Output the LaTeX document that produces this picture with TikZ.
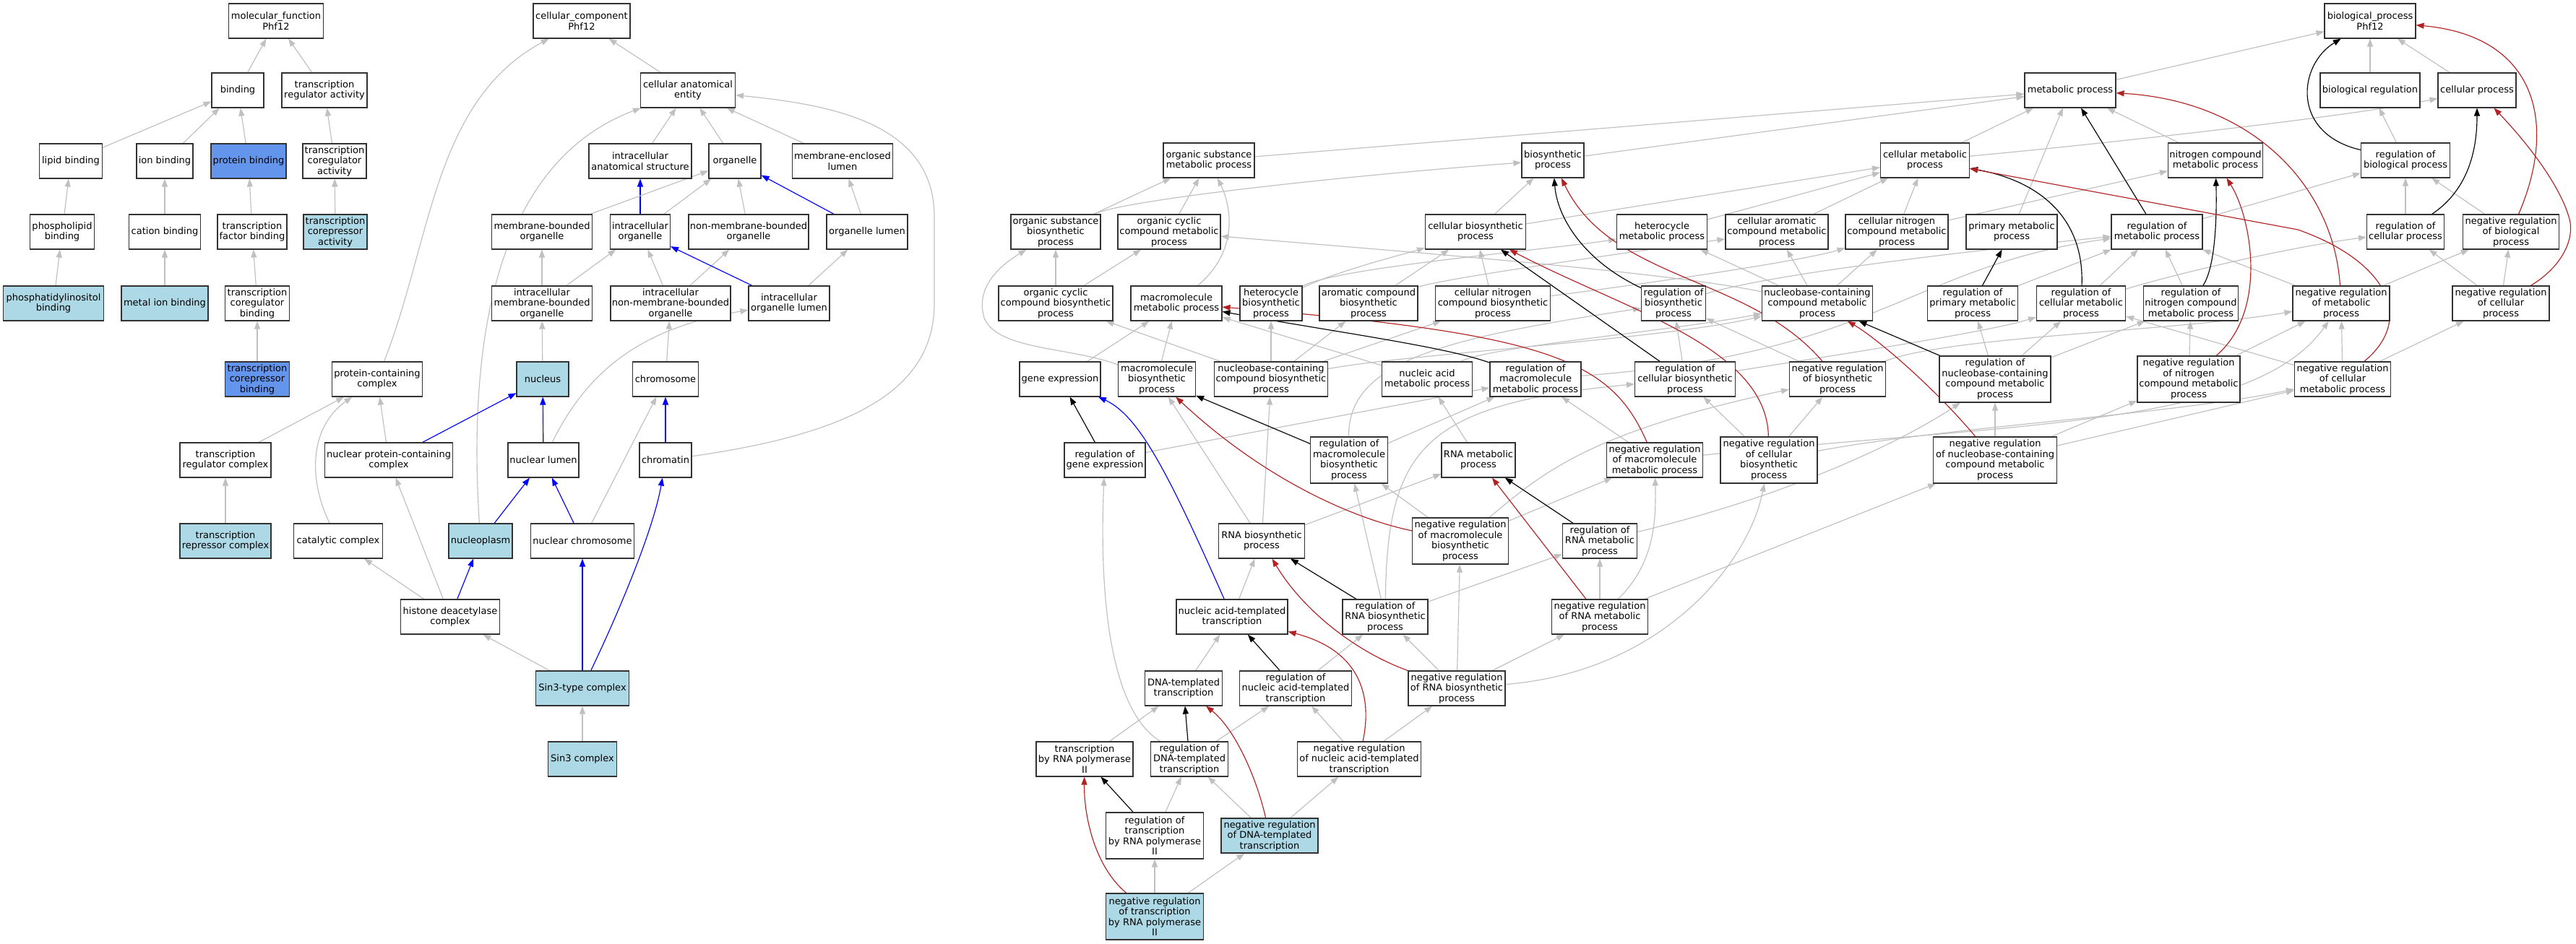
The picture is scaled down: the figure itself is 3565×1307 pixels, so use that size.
\documentclass[tikz,border=0pt]{standalone}
\usepackage{fontspec}
\newfontfamily\dvs{DejaVu Sans}
\usetikzlibrary{arrows.meta,backgrounds}
\definecolor{eg}{RGB}{192,192,192}
\definecolor{bd}{RGB}{50,50,50}
\definecolor{lbl}{RGB}{173,216,230}
\definecolor{cbl}{RGB}{100,149,237}
\definecolor{fbr}{RGB}{178,34,34}
\tikzset{
 gobox/.style={draw=bd, line width=1.1bp, fill=white, align=center, inner sep=1.5bp, minimum height=48bp, font=\dvs\fontsize{13bp}{14.5bp}\selectfont},
 tall/.style={minimum height=64bp},
 lbf/.style={fill=lbl},
 cbf/.style={fill=cbl},
 conn/.style={line width=1.15bp, -{Triangle[length=11bp,width=8bp]}},
 isa/.style={conn, draw=eg},
 po/.style={conn, draw=blue},
 rg/.style={conn, draw=black},
 nr/.style={conn, draw=fbr},
}
\begin{document}
\begin{tikzpicture}[x=1bp,y=-1bp]
\useasboundingbox (0,0) rectangle (3565,1307);
% ---------------- molecular function
\node[gobox,minimum width=131bp] (mf) at (382,29) {molecular\_function\\Phf12};
\node[gobox,minimum width=72bp] (bind) at (329,125) {binding};
\node[gobox,minimum width=118bp] (tra) at (449,125) {transcription\\regulator activity};
\node[gobox,minimum width=87bp] (lipid) at (98,223) {lipid binding};
\node[gobox,minimum width=78bp] (ionb) at (228,223) {ion binding};
\node[gobox,cbf,minimum width=104bp] (protb) at (344,223) {protein binding};
\node[gobox,minimum width=88bp] (tcoa) at (463,223) {transcription\\coregulator\\activity};
\node[gobox,minimum width=89bp] (phos) at (86,321) {phospholipid\\binding};
\node[gobox,minimum width=99bp] (cation) at (228,321) {cation binding};
\node[gobox,minimum width=96bp] (tfb) at (349,321) {transcription\\factor binding};
\node[gobox,lbf,minimum width=88bp] (tcra) at (464,321) {transcription\\corepressor\\activity};
\node[gobox,lbf,minimum width=139bp] (pib) at (74,420) {phosphatidylinositol\\binding};
\node[gobox,lbf,minimum width=120bp] (mib) at (228,420) {metal ion binding};
\node[gobox,minimum width=89bp] (tcb) at (356,420) {transcription\\coregulator\\binding};
\node[gobox,cbf,minimum width=89bp] (tcrb) at (356,525) {transcription\\corepressor\\binding};
% ---------------- cellular component
\node[gobox,minimum width=134bp] (cc) at (805,29) {cellular\_component\\Phf12};
\node[gobox,minimum width=131bp] (cae) at (952,125) {cellular anatomical\\entity};
\node[gobox,minimum width=142bp] (ias) at (886,223) {intracellular\\anatomical structure};
\node[gobox,minimum width=72bp] (org) at (1017,223) {organelle};
\node[gobox,minimum width=139bp] (mel) at (1166,223) {membrane-enclosed\\lumen};
\node[gobox,minimum width=139bp] (mbo) at (750,321) {membrane-bounded\\organelle};
\node[gobox,minimum width=83bp] (io) at (886,321) {intracellular\\organelle};
\node[gobox,minimum width=166bp] (nmbo) at (1036,321) {non-membrane-bounded\\organelle};
\node[gobox,minimum width=112bp] (ol) at (1200,321) {organelle lumen};
\node[gobox,minimum width=139bp] (imbo) at (750,420) {intracellular\\membrane-bounded\\organelle};
\node[gobox,minimum width=166bp] (inmbo) at (928,420) {intracellular\\non-membrane-bounded\\organelle};
\node[gobox,minimum width=112bp] (iol) at (1092,420) {intracellular\\organelle lumen};
\node[gobox,minimum width=125bp] (pcc) at (522,525) {protein-containing\\complex};
\node[gobox,lbf,minimum width=72bp] (nucleus) at (751,525) {nucleus};
\node[gobox,minimum width=91bp] (chrom) at (921,525) {chromosome};
\node[gobox,minimum width=126bp] (trc) at (312,637) {transcription\\regulator complex};
\node[gobox,minimum width=177bp] (npcc) at (538,637) {nuclear protein-containing\\complex};
\node[gobox,minimum width=98bp] (nl) at (752,637) {nuclear lumen};
\node[gobox,minimum width=72bp] (chromatin) at (921,637) {chromatin};
\node[gobox,lbf,minimum width=126bp] (trepc) at (312,749) {transcription\\repressor complex};
\node[gobox,minimum width=123bp] (catc) at (468,749) {catalytic complex};
\node[gobox,lbf,minimum width=88bp] (npl) at (665,749) {nucleoplasm};
\node[gobox,minimum width=143bp] (nchr) at (806,749) {nuclear chromosome};
\node[gobox,minimum width=137bp] (hdac) at (623,854) {histone deacetylase\\complex};
\node[gobox,lbf,minimum width=129bp] (sinthree) at (806,953) {Sin3-type complex};
\node[gobox,lbf,minimum width=95bp] (sinc) at (806,1051) {Sin3 complex};
% ---------------- biological process
\node[gobox,minimum width=126bp] (bp) at (3280,29) {biological\_process\\Phf12};
\node[gobox,minimum width=126bp] (mp) at (2865,125) {metabolic process};
\node[gobox,minimum width=138bp] (br) at (3280,125) {biological regulation};
\node[gobox,minimum width=108bp] (cp) at (3428,125) {cellular process};
\node[gobox,minimum width=126bp] (osmp) at (1673,222) {organic substance\\metabolic process};
\node[gobox,minimum width=86bp] (bsp) at (2149,222) {biosynthetic\\process};
\node[gobox,minimum width=123bp] (cmp) at (2664,222) {cellular metabolic\\process};
\node[gobox,minimum width=131bp] (ncmp) at (3066,222) {nitrogen compound\\metabolic process};
\node[gobox,minimum width=123bp] (rbp) at (3329,222) {regulation of\\biological process};
\node[gobox,minimum width=124bp] (osbp) at (1461,321) {organic substance\\biosynthetic\\process};
\node[gobox,minimum width=142bp] (occmp) at (1618,321) {organic cyclic\\compound metabolic\\process};
\node[gobox,minimum width=139bp] (cbp) at (2042,321) {cellular biosynthetic\\process};
\node[gobox,minimum width=125bp] (hmp) at (2300,321) {heterocycle\\metabolic process};
\node[gobox,minimum width=142bp] (camp) at (2459,321) {cellular aromatic\\compound metabolic\\process};
\node[gobox,minimum width=142bp] (cncmp) at (2625,321) {cellular nitrogen\\compound metabolic\\process};
\node[gobox,minimum width=126bp] (pmp) at (2784,321) {primary metabolic\\process};
\node[gobox,minimum width=126bp] (romp) at (2985,321) {regulation of\\metabolic process};
\node[gobox,minimum width=107bp] (rcp) at (3329,321) {regulation of\\cellular process};
\node[gobox,minimum width=133bp] (nrbp) at (3475,321) {negative regulation\\of biological\\process};
\node[gobox,minimum width=158bp] (occbp) at (1461,420) {organic cyclic\\compound biosynthetic\\process};
\node[gobox,minimum width=126bp] (mmp) at (1628,420) {macromolecule\\metabolic process};
\node[gobox,minimum width=86bp] (hbp) at (1759,420) {heterocycle\\biosynthetic\\process};
\node[gobox,minimum width=136bp] (acbp) at (1894,420) {aromatic compound\\biosynthetic\\process};
\node[gobox,minimum width=159bp] (cncbp) at (2066,420) {cellular nitrogen\\compound biosynthetic\\process};
\node[gobox,minimum width=89bp] (rbsp) at (2316,420) {regulation of\\biosynthetic\\process};
\node[gobox,minimum width=153bp] (nccmp) at (2515,420) {nucleobase-containing\\compound metabolic\\process};
\node[gobox,minimum width=125bp] (rpmp) at (2730,420) {regulation of\\primary metabolic\\process};
\node[gobox,minimum width=123bp] (rcmp) at (2880,420) {regulation of\\cellular metabolic\\process};
\node[gobox,minimum width=131bp] (rncmp) at (3032,420) {regulation of\\nitrogen compound\\metabolic process};
\node[gobox,minimum width=134bp] (nrmp) at (3240,420) {negative regulation\\of metabolic\\process};
\node[gobox,minimum width=134bp] (nrcp) at (3461,420) {negative regulation\\of cellular\\process};
\node[gobox,minimum width=112bp] (ge) at (1467,525) {gene expression};
\node[gobox,minimum width=107bp] (mbp) at (1601,525) {macromolecule\\biosynthetic\\process};
\node[gobox,minimum width=157bp] (nccbp) at (1759,525) {nucleobase-containing\\compound biosynthetic\\process};
\node[gobox,minimum width=125bp] (namp) at (1975,525) {nucleic acid\\metabolic process};
\node[gobox,minimum width=126bp] (rmmp) at (2125,525) {regulation of\\macromolecule\\metabolic process};
\node[gobox,minimum width=139bp] (rcbp) at (2332,525) {regulation of\\cellular biosynthetic\\process};
\node[gobox,minimum width=133bp] (nrbsp) at (2543,525) {negative regulation\\of biosynthetic\\process};
\node[gobox,tall,minimum width=154bp] (rnccmp) at (2761,525) {regulation of\\nucleobase-containing\\compound metabolic\\process};
\node[gobox,tall,minimum width=142bp] (nrncmp) at (3029,525) {negative regulation\\of nitrogen\\compound metabolic\\process};
\node[gobox,minimum width=133bp] (nrcmp) at (3242,525) {negative regulation\\of cellular\\metabolic process};
\node[gobox,minimum width=112bp] (rge) at (1529,637) {regulation of\\gene expression};
\node[gobox,tall,minimum width=107bp] (rmbp) at (1867,637) {regulation of\\macromolecule\\biosynthetic\\process};
\node[gobox,minimum width=102bp] (rmp) at (2046,637) {RNA metabolic\\process};
\node[gobox,minimum width=133bp] (nrmmp) at (2290,637) {negative regulation\\of macromolecule\\metabolic process};
\node[gobox,tall,minimum width=134bp] (nrcbp) at (2448,637) {negative regulation\\of cellular\\biosynthetic\\process};
\node[gobox,tall,minimum width=171bp] (nrnccmp) at (2761,637) {negative regulation\\of nucleobase-containing\\compound metabolic\\process};
\node[gobox,minimum width=119bp] (rnabsp) at (1746,749) {RNA biosynthetic\\process};
\node[gobox,tall,minimum width=133bp] (nrmbp) at (2021,749) {negative regulation\\of macromolecule\\biosynthetic\\process};
\node[gobox,minimum width=103bp] (rrmp) at (2214,749) {regulation of\\RNA metabolic\\process};
\node[gobox,minimum width=154bp] (natt) at (1705,854) {nucleic acid-templated\\transcription};
\node[gobox,minimum width=118bp] (rrbsp) at (1917,854) {regulation of\\RNA biosynthetic\\process};
\node[gobox,minimum width=133bp] (nrrmp) at (2214,854) {negative regulation\\of RNA metabolic\\process};
\node[gobox,minimum width=107bp] (dtt) at (1638,953) {DNA-templated\\transcription};
\node[gobox,minimum width=155bp] (rnatt) at (1793,953) {regulation of\\nucleic acid-templated\\transcription};
\node[gobox,minimum width=134bp] (nrrbsp) at (2016,953) {negative regulation\\of RNA biosynthetic\\process};
\node[gobox,minimum width=134bp] (trnap) at (1501,1051) {transcription\\by RNA polymerase\\II};
\node[gobox,minimum width=107bp] (rdtt) at (1646,1051) {regulation of\\DNA-templated\\transcription};
\node[gobox,minimum width=171bp] (nrnatt) at (1881,1051) {negative regulation\\of nucleic acid-templated\\transcription};
\node[gobox,tall,minimum width=135bp] (rtrnap) at (1598,1157) {regulation of\\transcription\\by RNA polymerase\\II};
\node[gobox,lbf,minimum width=134bp] (nrdtt) at (1757,1157) {negative regulation\\of DNA-templated\\transcription};
\node[gobox,lbf,tall,minimum width=135bp] (nrtrnap) at (1598,1269) {negative regulation\\of transcription\\by RNA polymerase\\II};

\begin{scope}[on background layer]
\fill[white] (0,0) rectangle (3565,1307);
% MF
\draw[isa] (bind) -- (mf);
\draw[isa] (tra) -- (mf);
\draw[isa] (lipid) -- (bind);
\draw[isa] (ionb) -- (bind);
\draw[isa] (protb) -- (bind);
\draw[isa] (tcoa) -- (tra);
\draw[isa] (phos) -- (lipid);
\draw[isa] (cation) -- (ionb);
\draw[isa] (tfb) -- (protb);
\draw[isa] (tcra) -- (tcoa);
\draw[isa] (pib) -- (phos);
\draw[isa] (mib) -- (cation);
\draw[isa] (tcb) -- (tfb);
\draw[isa] (tcrb) -- (tcb);
% CC
\draw[isa] (pcc) .. controls (598,330) and (600,140) .. (cc);
\draw[isa] (cae) -- (cc);
\draw[isa] (ias) -- (cae);
\draw[isa] (org) -- (cae);
\draw[isa] (mel) -- (cae);
\draw[isa] (npl) .. controls (645,440) and (700,220) .. (cae);
\draw[isa] (chromatin) .. controls (1180,600) and (1293,540) .. (1293,420) -- (1293,300) .. controls (1293,170) and (1150,145) .. (cae);
\draw[po] (io) -- (ias);
\draw[isa] (mbo) -- (org);
\draw[isa] (io) -- (org);
\draw[isa] (nmbo) -- (org);
\draw[po] (ol) -- (org);
\draw[isa] (ol) -- (mel);
\draw[isa] (imbo) -- (mbo);
\draw[isa] (imbo) -- (io);
\draw[isa] (inmbo) -- (io);
\draw[isa] (inmbo) -- (nmbo);
\draw[po] (iol) -- (io);
\draw[isa] (iol) -- (ol);
\draw[isa] (nucleus) -- (imbo);
\draw[isa] (chrom) -- (inmbo);
\draw[isa] (trc) -- (pcc);
\draw[isa] (npcc) -- (pcc);
\draw[po] (npcc) -- (nucleus);
\draw[po] (nl) -- (nucleus);
\draw[isa] (nl) .. controls (810,520) and (880,455) .. (iol);
\draw[po] (chromatin) -- (chrom);
\draw[isa] (trepc) -- (trc);
\draw[isa] (catc) .. controls (425,660) and (430,590) .. (pcc);
\draw[po] (npl) -- (nl);
\draw[po] (nchr) -- (nl);
\draw[isa] (nchr) -- (chrom);
\draw[isa] (hdac) -- (catc);
\draw[isa] (hdac) -- (npcc);
\draw[po] (hdac) -- (npl);
\draw[isa] (sinthree) -- (hdac);
\draw[po] (sinthree) -- (nchr);
\draw[po] (sinthree) .. controls (860,840) and (905,730) .. (chromatin);
\draw[isa] (sinc) -- (sinthree);
% BP gray
\draw[isa] (mp) -- (bp);
\draw[isa] (br) -- (bp);
\draw[isa] (cp) -- (bp);
\draw[isa] (osmp) -- (mp);
\draw[isa] (bsp) -- (mp);
\draw[isa] (cmp) -- (mp);
\draw[isa] (cmp) .. controls (2900,200) and (3250,162) .. (cp);
\draw[isa] (ncmp) -- (mp);
\draw[isa] (pmp) -- (mp);
\draw[isa] (rbp) -- (br);
\draw[isa] (osbp) -- (osmp);
\draw[isa] (osbp) .. controls (1560,275) and (1900,240) .. (bsp);
\draw[isa] (occmp) -- (osmp);
\draw[isa] (cbp) -- (bsp);
\draw[isa] (cbp) -- (cmp);
\draw[isa] (hmp) -- (cmp);
\draw[isa] (camp) -- (cmp);
\draw[isa] (cncmp) -- (cmp);
\draw[isa] (cncmp) -- (ncmp);
\draw[isa] (romp) -- (rbp);
\draw[isa] (rcp) -- (rbp);
\draw[isa] (nrbp) -- (rbp);
\draw[isa] (occbp) -- (osbp);
\draw[isa] (occbp) -- (occmp);
\draw[isa] (mmp) .. controls (1712,350) and (1706,290) .. (osmp);
\draw[isa] (hbp) .. controls (1850,375) and (1950,350) .. (cbp);
\draw[isa] (hbp) .. controls (1850,370) and (2150,345) .. (hmp);
\draw[isa] (acbp) -- (cbp);
\draw[isa] (acbp) .. controls (2000,385) and (2250,350) .. (camp);
\draw[isa] (cncbp) -- (cbp);
\draw[isa] (cncbp) .. controls (2300,390) and (2500,360) .. (cncmp);
\draw[isa] (rbsp) .. controls (2450,380) and (2700,350) .. (romp);
\draw[isa] (nccmp) .. controls (2300,375) and (1900,345) .. (occmp);
\draw[isa] (nccmp) -- (hmp);
\draw[isa] (nccmp) -- (camp);
\draw[isa] (nccmp) -- (cncmp);
\draw[isa] (rpmp) -- (romp);
\draw[isa] (rcmp) -- (romp);
\draw[isa] (rcmp) .. controls (2990,385) and (3150,345) .. (rcp);
\draw[isa] (rncmp) -- (romp);
\draw[isa] (nrmp) -- (romp);
\draw[isa] (nrmp) -- (nrbp);
\draw[isa] (nrcp) -- (rcp);
\draw[isa] (nrcp) -- (nrbp);
\draw[isa] (ge) -- (mmp);
\draw[isa] (mbp) -- (mmp);
\draw[isa] (mbp) .. controls (1480,480) and (1380,485) .. (1362,440) .. controls (1350,400) and (1380,370) .. (osbp);
\draw[isa] (nccbp) -- (hbp);
\draw[isa] (nccbp) -- (acbp);
\draw[isa] (nccbp) -- (cncbp);
\draw[isa] (nccbp) -- (occbp);
\draw[isa] (nccbp) .. controls (1950,490) and (2300,470) .. (nccmp);
\draw[isa] (namp) .. controls (2060,480) and (2300,460) .. (nccmp);
\draw[isa] (namp) -- (mmp);
\draw[isa] (rmmp) .. controls (2600,490) and (2640,370) .. (romp);
\draw[isa] (rcbp) -- (rbsp);
\draw[isa] (rcbp) .. controls (2550,490) and (2750,460) .. (rcmp);
\draw[isa] (nrbsp) -- (rbsp);
\draw[isa] (nrbsp) .. controls (2700,465) and (3000,460) .. (nrmp);
\draw[isa] (rnccmp) -- (rpmp);
\draw[isa] (rnccmp) -- (rcmp);
\draw[isa] (rnccmp) -- (rncmp);
\draw[isa] (nrncmp) -- (rncmp);
\draw[isa] (nrncmp) -- (nrmp);
\draw[isa] (nrcmp) -- (nrmp);
\draw[isa] (nrcmp) -- (nrcp);
\draw[isa] (nrcmp) -- (rcmp);
\draw[isa] (rge) -- (rmmp);
\draw[isa] (rmbp) -- (rmmp);
\draw[isa] (rmbp) .. controls (1865,500) and (2000,468) .. (rbsp);
\draw[isa] (rmp) -- (namp);
\draw[isa] (nrmmp) -- (rmmp);
\draw[isa] (nrmmp) .. controls (2800,585) and (3120,590) .. (nrmp);
\draw[isa] (nrcbp) -- (rcbp);
\draw[isa] (nrcbp) -- (nrbsp);
\draw[isa] (nrcbp) .. controls (2700,590) and (3000,575) .. (nrcmp);
\draw[isa] (nrnccmp) -- (rnccmp);
\draw[isa] (nrnccmp) -- (nrncmp);
\draw[isa] (nrnccmp) -- (nrcmp);
\draw[isa] (rnabsp) -- (mbp);
\draw[isa] (rnabsp) -- (nccbp);
\draw[isa] (rnabsp) -- (rmp);
\draw[isa] (nrmbp) -- (rmbp);
\draw[isa] (nrmbp) -- (nrmmp);
\draw[isa] (nrmbp) .. controls (2130,660) and (2190,600) .. (nrbsp);
\draw[isa] (rrmp) .. controls (2500,680) and (2650,600) .. (rnccmp);
\draw[isa] (nrrmp) -- (rrmp);
\draw[isa] (nrrmp) .. controls (2290,780) and (2292,720) .. (nrmmp);
\draw[isa] (nrrmp) -- (nrnccmp);
\draw[isa] (natt) -- (rnabsp);
\draw[isa] (rrbsp) -- (rmbp);
\draw[isa] (rrbsp) -- (rrmp);
\draw[isa] (rrbsp) .. controls (1920,620) and (1970,560) .. (rcbp);
\draw[isa] (dtt) -- (natt);
\draw[isa] (rnatt) -- (rrbsp);
\draw[isa] (nrrbsp) -- (rrbsp);
\draw[isa] (nrrbsp) -- (nrmbp);
\draw[isa] (nrrbsp) -- (nrrmp);
\draw[isa] (nrrbsp) .. controls (2300,930) and (2420,780) .. (nrcbp);
\draw[isa] (trnap) -- (dtt);
\draw[isa] (rdtt) -- (rnatt);
\draw[isa] (rdtt) .. controls (1530,980) and (1522,800) .. (rge);
\draw[isa] (nrnatt) -- (rnatt);
\draw[isa] (nrnatt) -- (nrrbsp);
\draw[isa] (rtrnap) -- (rdtt);
\draw[isa] (nrdtt) -- (rdtt);
\draw[isa] (nrdtt) -- (nrnatt);
\draw[isa] (nrtrnap) -- (rtrnap);
\draw[isa] (nrtrnap) -- (nrdtt);
% BP part of
\draw[po] (natt) .. controls (1615,650) and (1575,575) .. (ge);
% BP regulates
\draw[rg] (rbp) .. controls (3170,185) and (3180,90) .. (bp);
\draw[rg] (romp) -- (mp);
\draw[rg] (rcp) .. controls (3420,260) and (3428,200) .. (cp);
\draw[rg] (rpmp) -- (pmp);
\draw[rg] (rcmp) .. controls (2885,300) and (2820,250) .. (cmp);
\draw[rg] (rncmp) .. controls (3066,370) and (3068,300) .. (ncmp);
\draw[rg] (rbsp) .. controls (2190,360) and (2155,300) .. (bsp);
\draw[rg] (rmmp) .. controls (2000,480) and (1850,460) .. (mmp);
\draw[rg] (rcbp) -- (cbp);
\draw[rg] (rnccmp) -- (nccmp);
\draw[rg] (rge) -- (ge);
\draw[rg] (rmbp) -- (mbp);
\draw[rg] (rrmp) -- (rmp);
\draw[rg] (rrbsp) -- (rnabsp);
\draw[rg] (rnatt) -- (natt);
\draw[rg] (rdtt) -- (dtt);
\draw[rg] (rtrnap) -- (trnap);
% BP negatively regulates
\draw[nr] (nrbp) .. controls (3540,170) and (3510,50) .. (bp);
\draw[nr] (nrcp) .. controls (3545,370) and (3565,330) .. (3555,300) .. controls (3540,250) and (3490,190) .. (cp);
\draw[nr] (nrmp) .. controls (3230,260) and (3120,140) .. (mp);
\draw[nr] (nrcmp) .. controls (3345,440) and (3300,360) .. (3180,318) -- (cmp);
\draw[nr] (nrncmp) .. controls (3140,430) and (3115,300) .. (ncmp);
\draw[nr] (nrbsp) .. controls (2420,380) and (2230,390) .. (bsp);
\draw[nr] (nrmmp) .. controls (2230,500) and (2150,462) .. (mmp);
\draw[nr] (nrcbp) .. controls (2445,480) and (2250,430) .. (cbp);
\draw[nr] (nrnccmp) .. controls (2680,540) and (2600,470) .. (nccmp);
\draw[nr] (nrmbp) .. controls (1860,715) and (1740,655) .. (mbp);
\draw[nr] (nrrmp) -- (rmp);
\draw[nr] (nrrbsp) .. controls (1870,900) and (1800,840) .. (rnabsp);
\draw[nr] (nrnatt) .. controls (1900,960) and (1880,900) .. (natt);
\draw[nr] (nrdtt) .. controls (1740,1080) and (1710,1010) .. (dtt);
\draw[nr] (nrtrnap) .. controls (1515,1200) and (1500,1130) .. (trnap);
\end{scope}
\end{tikzpicture}
\end{document}
